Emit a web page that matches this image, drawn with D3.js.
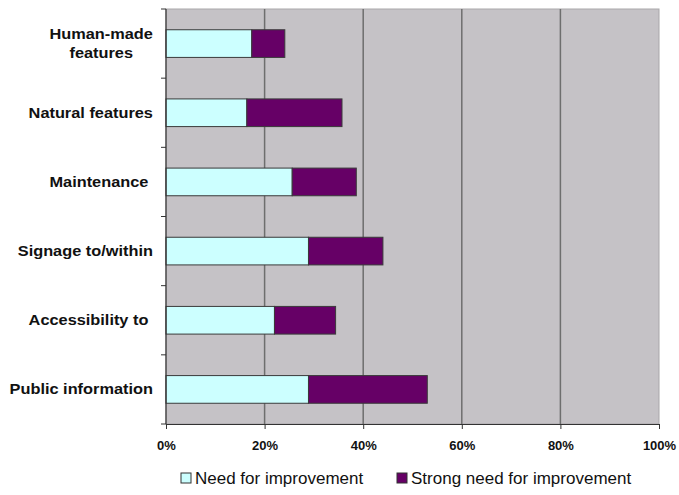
<!DOCTYPE html>
<html>
<head>
<meta charset="utf-8">
<script src="https://cdn.jsdelivr.net/npm/d3@7"></script>
<style>
  html, body { margin: 0; padding: 0; background: #fff; }
  svg { display: block; font-family: Arial, "Liberation Sans", sans-serif; }
</style>
</head>
<body>
<svg id="chart" width="679" height="495"></svg>
<script>
// Survey areas, top to bottom
const categories = [
  ["Human-made", "features"],
  ["Natural features"],
  ["Maintenance "],
  ["Signage to/within"],
  ["Accessibility to "],
  ["Public information"]
];
// Share of respondents (%)
const needValues   = [17.4, 16.4, 25.6, 28.9, 22.0, 28.9];
const strongValues = [ 6.7, 19.3, 13.0, 15.1, 12.4, 24.1];
const seriesNames  = ["Need for improvement", "Strong need for improvement"];
const seriesColors = ["#CCFFFF", "#660066"];
const xTicks = [0, 20, 40, 60, 80, 100];

const svg = d3.select("#chart");
const margin = { left: 166, right: 20, top: 9, bottom: 71 };
const W = 679, H = 495;
const plotW = W - margin.left - margin.right;
const plotH = H - margin.top - margin.bottom;

const x = d3.scaleLinear().domain([0, 100]).range([0, plotW]);
const y = d3.scaleBand().domain(d3.range(categories.length)).range([0, plotH])
  .paddingInner(0.6).paddingOuter(0.3);
const yOuter = d3.scaleBand().domain(d3.range(categories.length)).range([0, plotH]);

const g = svg.append("g").attr("transform", `translate(${margin.left},${margin.top})`);

// plot background and frame
g.append("rect").attr("x", 0).attr("y", 0).attr("width", plotW).attr("height", plotH)
  .attr("fill", "#C5C2C6").attr("stroke", "#A9A7AA").attr("stroke-width", 1);

// vertical gridlines
g.selectAll(".grid").data(xTicks.slice(1, -1)).join("line")
  .attr("x1", d => x(d)).attr("x2", d => x(d))
  .attr("y1", 0).attr("y2", plotH)
  .attr("stroke", "#6E6E6E").attr("stroke-width", 1.5);

// stacked bars
const stackData = categories.map((c, i) => ({ i, need: needValues[i], strong: strongValues[i] }));
const stack = d3.stack().keys(["need", "strong"])(stackData);
g.selectAll(".series").data(stack).join("g")
  .attr("fill", (d, k) => seriesColors[k])
  .selectAll("rect").data(d => d).join("rect")
  .attr("x", d => x(d[0]))
  .attr("width", d => x(d[1]) - x(d[0]))
  .attr("y", d => y(d.data.i))
  .attr("height", y.bandwidth())
  .attr("stroke", "#3A3A3A").attr("stroke-width", 1);

// x axis
const xAxis = g.append("g").attr("transform", `translate(0,${plotH})`)
  .call(d3.axisBottom(x).tickValues(xTicks).tickFormat(d => d + "%").tickSize(5).tickSizeOuter(0));
xAxis.select(".domain").attr("stroke", "#333").attr("stroke-width", 1.2);
xAxis.selectAll(".tick line").attr("stroke", "#333");
xAxis.selectAll("text").attr("font-size", "13px").attr("font-weight", "bold")
  .attr("fill", "#111").attr("dy", "1.35em");

// y axis: ticks between categories
const yAxisG = g.append("g");
yAxisG.append("line").attr("x1", 0).attr("x2", 0).attr("y1", 0).attr("y2", plotH)
  .attr("stroke", "#333").attr("stroke-width", 1.2);
yAxisG.selectAll(".ytick").data(d3.range(categories.length + 1)).join("line")
  .attr("x1", -5).attr("x2", 0)
  .attr("y1", d => d < categories.length ? yOuter(d) : plotH)
  .attr("y2", d => d < categories.length ? yOuter(d) : plotH)
  .attr("stroke", "#333");

// category labels: multi-line blocks centred on each other, right-aligned to the axis
const labelScaleX = 1.09;
categories.forEach((lines, i) => {
  const cy = y(i) + y.bandwidth() / 2;
  const lineH = 19;
  const t = g.append("text")
    .attr("font-size", "15px").attr("font-weight", "bold").attr("fill", "#111")
    .attr("text-anchor", "middle");
  lines.forEach((ln, j) => {
    t.append("tspan").text(ln).attr("x", 0)
      .attr("y", cy + (j - (lines.length - 1) / 2) * lineH + 5)
      .attr("xml:space", "preserve");
  });
  // align the widest line's right edge with the label column
  const bb = t.node().getBBox();
  const rightEdge = -13;
  const shift = rightEdge - (bb.x + bb.width) * labelScaleX;
  t.attr("transform", `translate(${shift},0) scale(${labelScaleX},1)`);
});

// legend
const legend = svg.append("g").attr("transform", "translate(0,484)");
const legendX = [181, 397];
seriesNames.forEach((name, k) => {
  legend.append("rect").attr("x", legendX[k]).attr("y", -11)
    .attr("width", 10).attr("height", 10)
    .attr("fill", seriesColors[k]).attr("stroke", "#333").attr("stroke-width", 1);
  legend.append("text").attr("x", legendX[k] + 14).attr("y", 0)
    .attr("font-size", "17px").attr("fill", "#111").text(name);
});
</script>
</body>
</html>
